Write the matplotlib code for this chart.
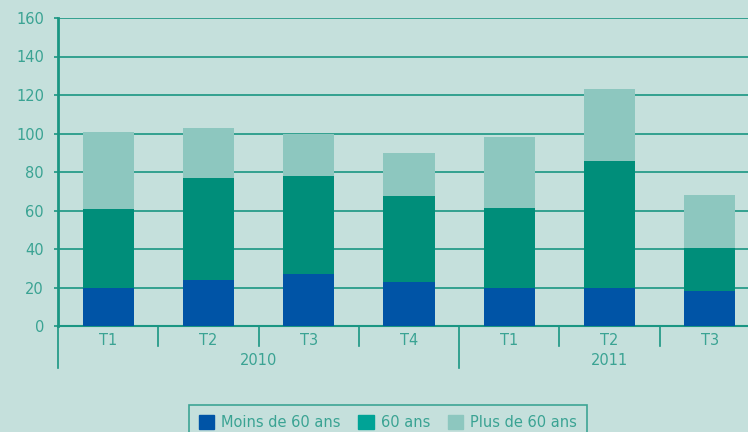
import matplotlib.pyplot as plt
from matplotlib.patches import Patch
import numpy as np

# valeurs
quarters = ['T1', 'T2', 'T3', 'T4', 'T1', 'T2', 'T3']
years = ['2010', '2011']
year_spans = [(0, 3), (4, 6)]  # premier et dernier index de chaque annee
moins_60 = [20, 24, 27, 23, 20, 20, 18]
ans_60 = [41, 53, 51, 44.5, 41.5, 65.5, 22.5]
plus_60 = [40, 26, 22, 22.5, 36.5, 37.5, 27.5]
series_names = ['Moins de 60 ans', '60 ans', 'Plus de 60 ans']

bg = '#c5e0dc'
teal = '#1a9683'
text_c = '#3aa393'
c_blue = '#0054a6'
c_green = '#008e7a'
c_light = '#8dc7bf'
c_legend_green = '#00a396'

plt.rcParams['font.family'] = ['DejaVu Sans']

fig = plt.figure(figsize=(7.48, 4.32), dpi=100, facecolor=bg)
ax = fig.add_axes([58 / 748, 1 - 326 / 432, 1 - 58 / 748, 308 / 432])
ax.set_facecolor(bg)

x = np.arange(len(quarters))
w = 0.51
b1 = np.array(moins_60)
b2 = b1 + np.array(ans_60)
ax.bar(x, moins_60, w, color=c_blue, zorder=3)
ax.bar(x, ans_60, w, bottom=b1, color=c_green, zorder=3)
ax.bar(x, plus_60, w, bottom=b2, color=c_light, zorder=3)

# le cadre est coupe a droite, apres la derniere barre
ax.set_xlim(-0.5, 6.38)
ax.set_ylim(0, 160)
ax.set_yticks(range(0, 161, 20))
ax.yaxis.grid(True, color=teal, linewidth=1.2, zorder=1)
ax.tick_params(axis='y', colors=teal, length=3, width=1.2, labelcolor=text_c,
               labelsize=10.5, pad=7)
ax.set_xticks([])
for s in ['top', 'right']:
    ax.spines[s].set_visible(False)
ax.spines['left'].set_color(teal)
ax.spines['left'].set_linewidth(2)
ax.spines['bottom'].set_color(teal)
ax.spines['bottom'].set_linewidth(1.5)

# axe des abscisses a deux niveaux
trans = ax.get_xaxis_transform()
year_starts = [s for s, e in year_spans]
for i in range(len(quarters)):
    left = i - 0.5
    if i in year_starts:
        ax.plot([left, left], [0, -0.135], transform=trans, color=teal,
                linewidth=1.2, clip_on=False)
    else:
        ax.plot([left, left], [0, -0.065], transform=trans, color=teal,
                linewidth=1.2, clip_on=False)
    ax.text(i, -0.048, quarters[i], transform=trans, ha='center', va='center',
            color=text_c, fontsize=10.5)
for yr, (s, e) in zip(years, year_spans):
    ax.text((s + e) / 2, -0.112, yr, transform=trans, ha='center', va='center',
            color=text_c, fontsize=10.5)

handles = [Patch(color=c_blue), Patch(color=c_legend_green), Patch(color=c_light)]
leg = fig.legend(handles, series_names, loc='upper center',
                 bbox_to_anchor=(388 / 748, 1 - 405 / 432), ncol=3,
                 frameon=True, fancybox=False, handlelength=1.05, handleheight=1.05,
                 handletextpad=0.5, columnspacing=1.2, fontsize=10.5,
                 borderpad=0.7, borderaxespad=0)
leg.get_frame().set_facecolor(bg)
leg.get_frame().set_edgecolor(teal)
leg.get_frame().set_linewidth(1.2)
for t in leg.get_texts():
    t.set_color(text_c)

plt.savefig('out.png', dpi=100, facecolor=bg)
